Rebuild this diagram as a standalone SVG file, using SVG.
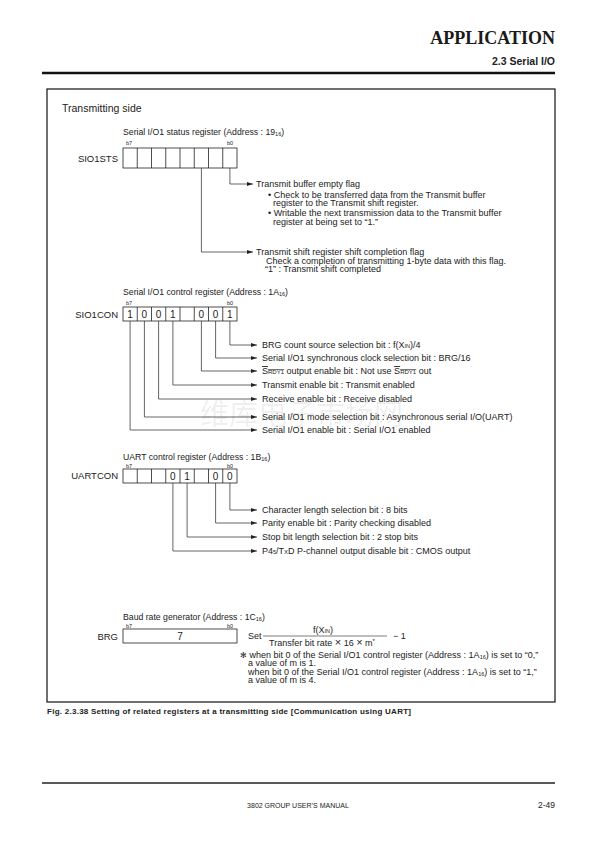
<svg xmlns="http://www.w3.org/2000/svg" width="595" height="842" viewBox="0 0 595 842">
<style>
text{font-family:"Liberation Sans",Arial,sans-serif;fill:#222}
.d{font-size:9px}
.ti{font-size:8.7px}
.lb{font-size:9.5px;text-anchor:end}
.bb{font-size:5.5px}
.v{font-size:10px;text-anchor:middle}
.sub{font-size:5.5px}
.ln{stroke:#333;stroke-width:0.75;fill:none}
.cell{fill:#fff;stroke:#222;stroke-width:0.8}
.ov{text-decoration:overline}
</style>
<defs>
<marker id="ah" markerWidth="6" markerHeight="4" refX="6" refY="2" orient="auto" markerUnits="userSpaceOnUse"><path d="M0,0 L6,2 L0,4 z" fill="#222"/></marker>
</defs>
<rect width="595" height="842" fill="#fff"/>

<g id="header">
<text x="555" y="44" style="font-family:'Liberation Serif','Times New Roman',serif;font-weight:bold;font-size:18px;text-anchor:end;fill:#1a1a1a">APPLICATION</text>
<text x="555" y="65" style="font-weight:bold;font-size:10.5px;text-anchor:end">2.3 Serial I/O</text>
<line x1="42" y1="73" x2="555" y2="73" stroke="#111" stroke-width="2.6"/>
</g>

<g id="frame">
<rect x="47" y="89" width="508" height="613" fill="none" stroke="#111" stroke-width="1.2"/>
<text x="62" y="112" style="font-size:10.5px">Transmitting side</text>
</g>

<text x="200" y="425" style="font-family:'Noto Sans CJK SC',sans-serif;font-size:29px;fill:#000;fill-opacity:0.07">维库电子市场网</text>

<g id="sio1sts">
<text class="ti" x="123" y="135">Serial I/O1 status register (Address : 19<tspan class="sub" dy="1">16</tspan><tspan dy="-1">)</tspan></text>
<text class="bb" x="126" y="145">b7</text>
<text class="bb" x="227" y="145">b0</text>
<text class="lb" x="118" y="161.5">SIO1STS</text>
<rect class="cell" x="123" y="148" width="114" height="20"/>
<path class="ln" style="stroke:#222;stroke-width:0.8" d="M137.25,148V168M151.5,148V168M165.75,148V168M180,148V168M194.25,148V168M208.5,148V168M222.75,148V168"/>
<text class="d" x="256" y="187">Transmit buffer empty flag</text>
<text class="d" x="268" y="197.5">• Check to be transferred data from the Transmit buffer</text>
<text class="d" x="273" y="206">register to the Transmit shift register.</text>
<text class="d" x="268" y="216">• Writable the next transmission data to the Transmit buffer</text>
<text class="d" x="273" y="224.5">register at being set to  “1.”</text>
<text class="d" x="256" y="254.5">Transmit shift register shift completion flag</text>
<text class="d" x="266" y="263.5">Check a completion of transmitting 1-byte data with this flag.</text>
<text class="d" x="265" y="272">“1” : Transmit shift completed</text>
</g>

<g id="sio1con">
<text class="ti" x="123" y="295">Serial I/O1 control register (Address : 1A<tspan class="sub" dy="1">16</tspan><tspan dy="-1">)</tspan></text>
<text class="bb" x="126" y="305">b7</text>
<text class="bb" x="227" y="305">b0</text>
<text class="lb" x="118" y="318">SIO1CON</text>
<rect class="cell" x="123" y="307" width="114" height="14"/>
<path class="ln" style="stroke:#222;stroke-width:0.8" d="M137.25,307V321M151.5,307V321M165.75,307V321M180,307V321M194.25,307V321M208.5,307V321M222.75,307V321"/>
<text class="v" x="130.1" y="318">1</text>
<text class="v" x="144.4" y="318">0</text>
<text class="v" x="158.6" y="318">0</text>
<text class="v" x="172.9" y="318">1</text>
<text class="v" x="201.4" y="318">0</text>
<text class="v" x="215.6" y="318">0</text>
<text class="v" x="229.9" y="318">1</text>
<text class="d" x="262" y="348">BRG count source selection bit : f(X<tspan class="sub">IN</tspan>)/4</text>
<text class="d" x="262" y="361">Serial I/O1 synchronous clock selection bit : BRG/16</text>
<text class="d" x="262" y="374"><tspan class="ov">S<tspan style="font-size:6px">RDY1</tspan></tspan> output enable bit : Not use <tspan class="ov">S<tspan style="font-size:6px">RDY1</tspan></tspan> out</text>
<text class="d" x="262" y="388">Transmit enable bit : Transmit enabled</text>
<text class="d" x="262" y="402">Receive enable bit : Receive disabled</text>
<text class="d" x="262" y="420">Serial I/O1 mode selection bit : Asynchronous serial I/O(UART)</text>
<text class="d" x="262" y="433">Serial I/O1 enable bit : Serial I/O1 enabled</text>
</g>

<g id="uartcon">
<text class="ti" x="123" y="460">UART control register (Address : 1B<tspan class="sub" dy="1">16</tspan><tspan dy="-1">)</tspan></text>
<text class="bb" x="126" y="468">b7</text>
<text class="bb" x="227" y="468">b0</text>
<text class="lb" x="118" y="479">UARTCON</text>
<rect class="cell" x="123" y="469" width="114" height="14"/>
<path class="ln" style="stroke:#222;stroke-width:0.8" d="M137.25,469V483M151.5,469V483M165.75,469V483M180,469V483M194.25,469V483M208.5,469V483M222.75,469V483"/>
<text class="v" x="172.9" y="480">0</text>
<text class="v" x="187.1" y="480">1</text>
<text class="v" x="215.6" y="480">0</text>
<text class="v" x="229.9" y="480">0</text>
<text class="d" x="262" y="513">Character length selection bit : 8 bits</text>
<text class="d" x="262" y="526">Parity enable bit : Parity checking disabled</text>
<text class="d" x="262" y="540">Stop bit length selection bit : 2 stop bits</text>
<text class="d" x="262" y="554">P4<tspan class="sub">5</tspan>/T<tspan style="font-size:6px">X</tspan>D P-channel output disable bit : CMOS output</text>
</g>

<g id="brg">
<text class="ti" x="123" y="620">Baud rate generator (Address : 1C<tspan class="sub" dy="1">16</tspan><tspan dy="-1">)</tspan></text>
<text class="bb" x="126" y="628">b7</text>
<text class="bb" x="227" y="628">b0</text>
<text class="lb" x="118" y="640">BRG</text>
<rect class="cell" x="123" y="629" width="114" height="14"/>
<text class="v" x="180" y="640">7</text>
<text class="d" x="248" y="639">Set</text>
<line x1="263" y1="636" x2="387" y2="636" stroke="#222" stroke-width="0.6"/>
<text class="d" x="323" y="633" style="text-anchor:middle">f(X<tspan class="sub">IN</tspan>)</text>
<text class="d" x="269" y="646">Transfer bit rate <tspan style="font-size:11px">×</tspan> 16  <tspan style="font-size:11px">×</tspan> m<tspan style="font-size:6px" dy="-3">*</tspan></text>
<text class="d" x="393" y="639">− 1</text>
<text class="d" x="240" y="658"><tspan style="font-size:8px">✻</tspan> when bit 0 of the Serial I/O1 control register (Address : 1A<tspan class="sub" dy="1">16</tspan><tspan dy="-1">) is set to  “0,”</tspan></text>
<text class="d" x="248" y="666">a value of m is 1.</text>
<text class="d" x="248" y="675">when bit 0 of the Serial I/O1 control register (Address : 1A<tspan class="sub" dy="1">16</tspan><tspan dy="-1">) is set to  “1,”</tspan></text>
<text class="d" x="248" y="683">a value of m is 4.</text>
</g>

<g id="connectors">
<path class="ln" marker-end="url(#ah)" d="M229.9,168V184H253"/>
<path class="ln" marker-end="url(#ah)" d="M201.4,168V252H253"/>
<path class="ln" marker-end="url(#ah)" d="M229.9,321V345H257"/>
<path class="ln" marker-end="url(#ah)" d="M215.6,321V358H257"/>
<path class="ln" marker-end="url(#ah)" d="M201.4,321V371H257"/>
<path class="ln" marker-end="url(#ah)" d="M172.9,321V385H257"/>
<path class="ln" marker-end="url(#ah)" d="M158.6,321V399H257"/>
<path class="ln" marker-end="url(#ah)" d="M144.4,321V417H257"/>
<path class="ln" marker-end="url(#ah)" d="M130.1,321V430H257"/>
<path class="ln" marker-end="url(#ah)" d="M229.9,483V510H257"/>
<path class="ln" marker-end="url(#ah)" d="M215.6,483V523H257"/>
<path class="ln" marker-end="url(#ah)" d="M187.1,483V537H257"/>
<path class="ln" marker-end="url(#ah)" d="M172.9,483V551H257"/>
</g>

<g id="caption">
<text x="47" y="714" textLength="364" lengthAdjust="spacing" style="font-weight:bold;font-size:8px">Fig. 2.3.38 Setting of related registers at a transmitting side [Communication using UART]</text>
</g>

<g id="footer">
<line x1="42" y1="783" x2="555" y2="783" stroke="#222" stroke-width="1.3"/>
<text x="298" y="808" style="font-size:7px;text-anchor:middle">3802 GROUP USER’S MANUAL</text>
<text x="555" y="808" style="font-size:8.5px;text-anchor:end">2-49</text>
</g>
</svg>
